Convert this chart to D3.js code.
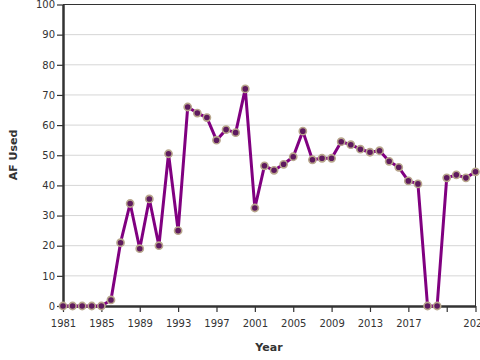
<!DOCTYPE html>
<html><head><meta charset="utf-8">
<script src="https://cdn.jsdelivr.net/npm/d3@7"></script>
<style>
body{margin:0;background:#fff;}
svg{display:block;font-family:"DejaVu Sans",Verdana,sans-serif;}
</style></head>
<body><svg id="c" width="480" height="360"></svg>
<script>
const years = d3.range(1981, 2025);
const afUsed = [0,0,0,0,0,2,21,34,19,35.5,20,50.5,25,66,64,62.5,55,58.5,57.5,72,32.5,46.5,45,47,49.5,58,48.5,49,49,54.5,53.5,52,51,51.5,48,46,41.5,40.5,0,0,42.5,43.5,42.5,44.5];
const xTickValues = [1981,1985,1989,1993,1997,2001,2005,2009,2013,2017,2021,2024];
const xTickLabels = ["1981","1985","1989","1993","1997","2001","2005","2009","2013","2017","","2024"];
const yTickValues = [0,10,20,30,40,50,60,70,80,90,100];
const yLabel = "AF Used", xLabel = "Year";

const svg = d3.select("#c");
const L=63, R=475.5, T=4.5, B=306;
const x = d3.scaleLinear().domain([1981,2024]).range([L,R]);
const y = d3.scaleLinear().domain([0,100]).range([B,T]);

// grid
svg.append("g").selectAll("line").data(yTickValues.slice(1)).join("line")
  .attr("x1",L).attr("x2",R).attr("y1",d=>y(d)).attr("y2",d=>y(d))
  .attr("stroke","#d6d6d6").attr("stroke-width",1);

// frame top/right
svg.append("line").attr("x1",L).attr("x2",R).attr("y1",T).attr("y2",T).attr("stroke","#333").attr("stroke-width",1);
svg.append("line").attr("x1",R).attr("x2",R).attr("y1",T).attr("y2",B).attr("stroke","#333").attr("stroke-width",1);

const xAxis = svg.append("g").attr("transform",`translate(0,${B})`)
  .call(d3.axisBottom(x).tickValues(xTickValues).tickFormat((d,i)=>xTickLabels[i]).tickSize(6).tickSizeOuter(0));
const yAxis = svg.append("g").attr("transform",`translate(${L},0)`)
  .call(d3.axisLeft(y).tickValues(yTickValues).tickSize(6).tickSizeOuter(0));
[xAxis,yAxis].forEach(g=>{
  g.select(".domain").attr("stroke","#333").attr("stroke-width",2.5);
  g.selectAll(".tick line").attr("stroke","#333").attr("stroke-width",1.2);
  g.selectAll(".tick text").attr("fill","#333").attr("font-size",10).attr("font-family","DejaVu Sans, Verdana, sans-serif");
});
xAxis.selectAll(".tick text").attr("dy","1.2em");
yAxis.selectAll(".tick text").attr("x",-8);

const line = d3.line().x((d,i)=>x(years[i])).y(d=>y(d));
svg.append("path").datum(afUsed).attr("d",line).attr("fill","none")
  .attr("stroke","#800080").attr("stroke-width",3).attr("stroke-linejoin","round");

svg.append("g").selectAll("circle").data(afUsed).join("circle")
  .attr("cx",(d,i)=>x(years[i])).attr("cy",d=>y(d)).attr("r",3.6)
  .attr("fill","#5e1a5e").attr("stroke","#b8a68c").attr("stroke-width",1.6);

svg.append("text").attr("x",269).attr("y",351).attr("text-anchor","middle")
  .attr("font-size",11).attr("font-weight","bold").attr("fill","#333").text(xLabel);
svg.append("text").attr("transform","translate(17,155) rotate(-90)").attr("text-anchor","middle")
  .attr("font-size",11).attr("font-weight","bold").attr("fill","#333").text(yLabel);
</script></body></html>
